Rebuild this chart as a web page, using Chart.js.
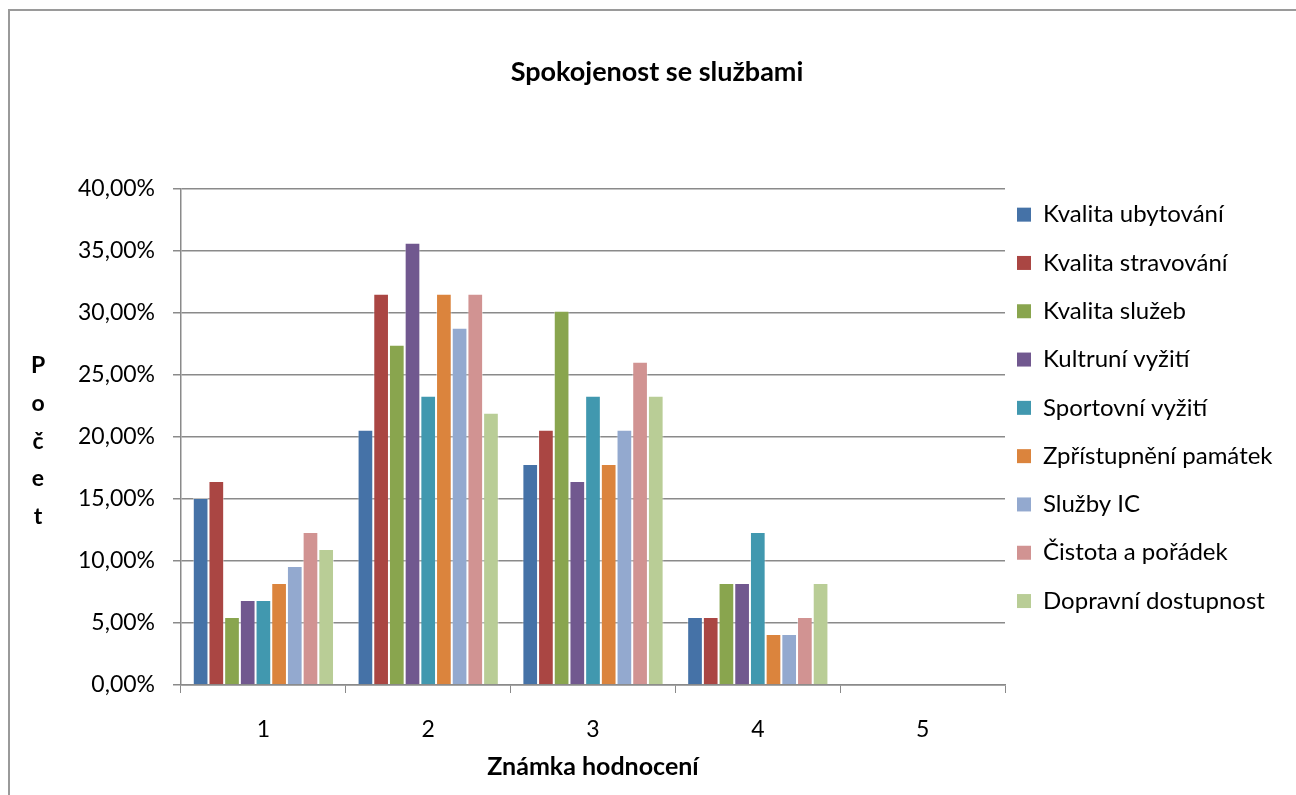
<!DOCTYPE html>
<html>
<head>
<meta charset="utf-8">
<script src="https://cdn.jsdelivr.net/npm/chart.js@4"></script>
<style>
  html, body { margin: 0; padding: 0; background: #fff; }
  #wrap { position: relative; width: 1296px; height: 795px; }
</style>
</head>
<body>
<div id="wrap"><canvas id="barChart"></canvas></div>
<script>
// data (percent)
const categories = ['1', '2', '3', '4', '5'];
const seriesNames = ['Kvalita ubytování', 'Kvalita stravování', 'Kvalita služeb', 'Kultruní vyžití',
  'Sportovní vyžití', 'Zpřístupnění památek', 'Služby IC', 'Čistota a pořádek', 'Dopravní dostupnost'];
const ubytovani = [15.07, 20.55, 17.81, 5.48, 0];
const stravovani = [16.44, 31.51, 20.55, 5.48, 0];
const sluzby = [5.48, 27.40, 30.14, 8.22, 0];
const kultura = [6.85, 35.62, 16.44, 8.22, 0];
const sport = [6.85, 23.29, 23.29, 12.33, 0];
const pamatky = [8.22, 31.51, 17.81, 4.11, 0];
const sluzbyIC = [9.59, 28.77, 20.55, 4.11, 0];
const cistota = [12.33, 31.51, 26.03, 5.48, 0];
const doprava = [10.96, 21.92, 23.29, 8.22, 0];
const yTicks = [0, 5, 10, 15, 20, 25, 30, 35, 40];

const colors = ['#4572A7', '#AA4643', '#89A54E', '#71588F', '#4198AF', '#DB843D', '#93A9CF', '#D19392', '#B9CD96'];
const allSeries = [ubytovani, stravovani, sluzby, kultura, sport, pamatky, sluzbyIC, cistota, doprava];

const FONT = 'Lato, "Open Sans", sans-serif';
const GRID = '#8a8a8a';

// frame round the chart and the stacked y title
const extras = {
  id: 'extras',
  beforeDraw(chart) {
    const ctx = chart.ctx;
    ctx.save();
    ctx.strokeStyle = '#9a9a9a';
    ctx.lineWidth = 2;
    ctx.beginPath();
    ctx.moveTo(9, 800);
    ctx.lineTo(9, 10);
    ctx.lineTo(1300, 10);
    ctx.stroke();
    ctx.restore();
  },
  afterDraw(chart) {
    const ctx = chart.ctx;
    ctx.save();
    ctx.font = 'bold 23px ' + FONT;
    ctx.fillStyle = '#000';
    ctx.textAlign = 'center';
    ctx.textBaseline = 'alphabetic';
    'Počet'.split('').forEach((ch, i) => ctx.fillText(ch, 38, 373 + i * 37.75));
    ctx.restore();
  }
};

new Chart(document.getElementById('barChart'), {
  type: 'bar',
  data: {
    labels: categories,
    datasets: allSeries.map((d, i) => ({
      label: seriesNames[i],
      data: d,
      backgroundColor: colors[i],
      borderColor: 'rgba(255,255,255,0.45)',
      borderWidth: 1,
      barPercentage: 1,
      categoryPercentage: 0.857
    }))
  },
  options: {
    responsive: true,
    maintainAspectRatio: false,
    animation: false,
    layout: { padding: { left: 18, right: 0, top: 33, bottom: 0 } },
    plugins: {
      tooltip: { enabled: false },
      title: {
        display: true,
        text: 'Spokojenost se službami',
        color: '#000',
        font: { family: FONT, size: 27, weight: 'bold' },
        padding: { top: 23, bottom: 100 }
      },
      legend: {
        position: 'right',
        maxWidth: 291,
        labels: {
          color: '#000',
          boxWidth: 14,
          boxHeight: 14,
          padding: 12,
          font: { family: FONT, size: 24, lineHeight: '36.3px' },
          // one-line array text so the item height follows lineHeight,
          // trailing spaces keep the legend at its fixed width
          generateLabels(chart) {
            const items = Chart.defaults.plugins.legend.labels.generateLabels(chart);
            items.forEach(it => { it.text = [it.text + '            ']; it.lineWidth = 0; });
            return items;
          }
        }
      }
    },
    scales: {
      x: {
        grid: { drawOnChartArea: false, drawTicks: true, tickLength: 8, color: GRID, offset: true },
        border: { color: GRID, width: 1.5 },
        ticks: { color: '#000', padding: 23, font: { family: FONT, size: 23 } },
        title: {
          display: true,
          text: 'Známka hodnocení',
          color: '#000',
          font: { family: FONT, size: 25, weight: 'bold' },
          padding: { top: 0, bottom: 13 }
        },
        afterFit(scale) { scale.height = 110; }
      },
      y: {
        min: 0,
        max: 40,
        afterBuildTicks(scale) { scale.ticks = yTicks.map(v => ({ value: v })); },
        grid: { color: GRID, lineWidth: 1.5, tickLength: 8 },
        border: { color: GRID, width: 1.5 },
        ticks: {
          color: '#000',
          padding: 18,
          font: { family: FONT, size: 23 },
          callback: v => v.toFixed(2).replace('.', ',') + '%'
        },
        afterFit(scale) { scale.width = 163; }
      }
    }
  },
  plugins: [extras]
});
</script>
</body>
</html>
